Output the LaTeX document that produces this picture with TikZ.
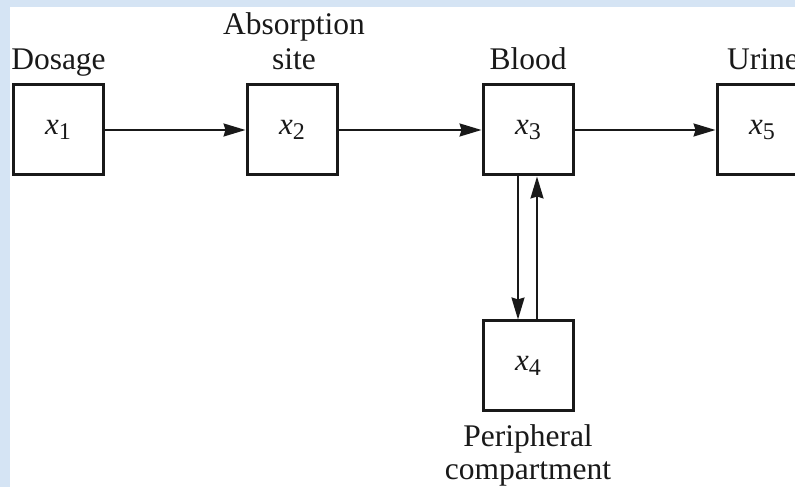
\documentclass[tikz,border=0pt]{standalone}
\usepackage{fontspec}
\setmainfont{Liberation Serif}
\usetikzlibrary{arrows.meta}
\definecolor{bgblue}{RGB}{213,228,244}
\definecolor{ink}{RGB}{25,25,25}
\newcommand{\xv}[1]{\textit{x}\raisebox{-0.32ex}{\fontsize{24}{24}\selectfont #1}}
\tikzset{
  comp/.style={draw=ink, line width=3pt, minimum width=90pt, minimum height=90pt, inner sep=0pt, font=\fontsize{31}{31}\selectfont, text=ink},
  lbl/.style={anchor=base, inner sep=0pt, font=\fontsize{31.5}{31.5}\selectfont, text=ink},
  flow/.style={draw=ink, line width=2pt, -{Stealth[inset=2pt,length=22pt,width=13pt]}}
}
\begin{document}
\begin{tikzpicture}[x=1pt,y=1pt]
\useasboundingbox (0,0) rectangle (795,487);
\fill[bgblue] (0,0) rectangle (795,487);
\fill[white] (10,0) rectangle (795,480);
\begin{scope}
\clip (10,0) rectangle (795,480);
\node[comp] (x1) at (58,357) {\xv{1}};
\node[comp] (x2) at (292,357) {\xv{2}};
\node[comp] (x3) at (528,357) {\xv{3}};
\node[comp] (x5) at (762,357) {\xv{5}};
\node[comp] (x4) at (528,121) {\xv{4}};
\node[lbl] (ldose) at (58.5,417) {Dosage};
\node[lbl] (labs1) at (294,452) {Absorption};
\node[lbl] (labs2) at (294,417) {site};
\node[lbl] (lblood) at (528,417) {Blood};
\node[lbl, anchor=base west] (lurine) at (727,417) {Urine};
\node[lbl] (lper1) at (528,40) {Peripheral};
\node[lbl] (lper2) at (528,7) {compartment};
\draw[flow] (x1) -- (x2);
\draw[flow] (x2) -- (x3);
\draw[flow] (x3) -- (x5);
\draw[flow] ([xshift=-10pt]x3.south) -- ([xshift=-10pt]x4.north);
\draw[flow] ([xshift=9pt]x4.north) -- ([xshift=9pt]x3.south);
\end{scope}
\end{tikzpicture}
\end{document}
